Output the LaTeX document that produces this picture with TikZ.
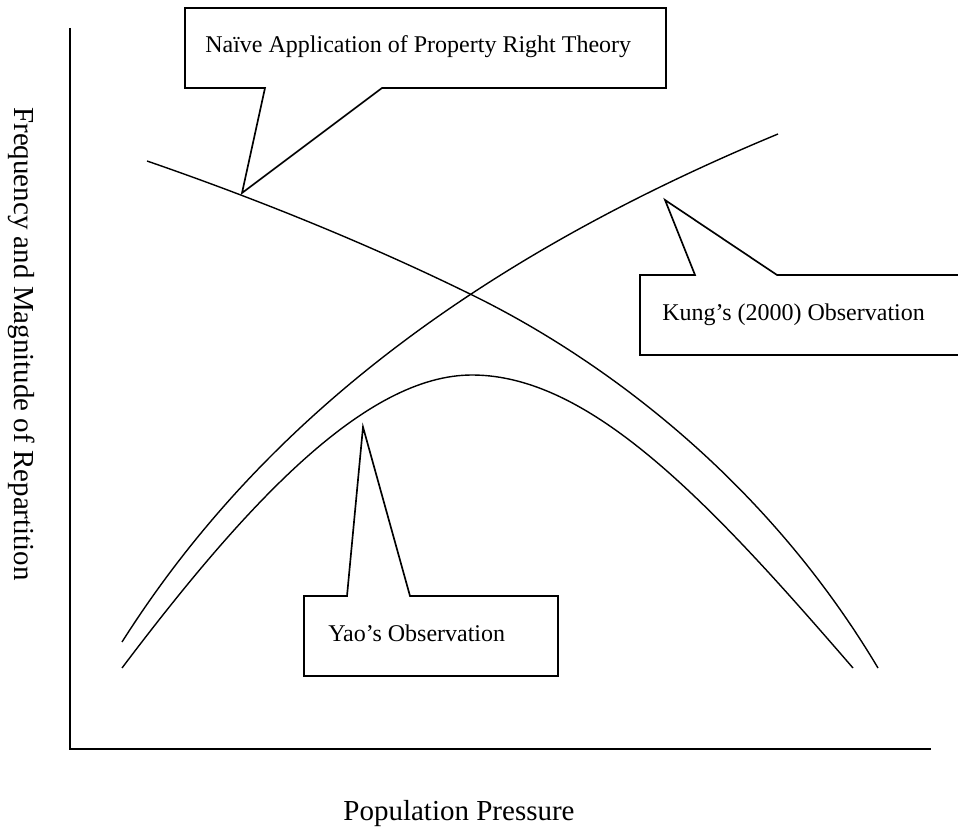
\documentclass[tikz,border=0pt]{standalone}
\usepackage{fontspec}
\setmainfont{Liberation Serif}

\begin{document}
\begin{tikzpicture}[x=0.75pt,y=0.75pt,yscale=-1,xscale=1,
  curve/.style={color={rgb, 255:red, 0; green, 0; blue, 0 }, draw opacity=1, line width=1.05pt},
  callout/.style={line width=1.25pt, line join=miter},
  calltext/.style={anchor=base west, inner sep=0.75pt, font=\fontsize{18}{22}\selectfont},
  axistext/.style={inner sep=0.75pt, font=\fontsize{21.75}{26}\selectfont}]
\useasboundingbox (0,0) rectangle (958,827);

%Straight Lines [id:axes]
\draw [line width=1.5pt]  (70,28) -- (70,749) -- (931,749) ;

%Curve Lines [id:naive]
\draw [curve]  (147,161) .. controls (260,200) and (370,245) .. (468,293) .. controls (590,352) and (760,470) .. (878,668) ;
%Curve Lines [id:kung]
\draw [curve]  (122,642) .. controls (252,437) and (455,268) .. (778,134) ;
%Curve Lines [id:yao]
\draw [curve]  (122,668) .. controls (245,505) and (365,375) .. (472,375) .. controls (592,375) and (713,506) .. (853,668) ;

%Shape: Callout [id:naivebox]
\draw [callout]  (185,8) -- (666,8) -- (666,88) -- (382,88) -- (242,193) -- (265,88) -- (185,88) -- cycle ;
%Shape: Callout [id:kungbox]
\draw [callout]  (640,275) -- (695,275) -- (665,200) -- (777,275) -- (964,275) -- (964,355) -- (640,355) -- cycle ;
%Shape: Callout [id:yaobox]
\draw [callout]  (304,596) -- (347,596) -- (363,427) -- (410,596) -- (558,596) -- (558,676) -- (304,676) -- cycle ;

% Text Node
\draw (204,53) node [calltext] (naive) {Naïve Application of Property Right Theory};
% Text Node
\draw (661,321) node [calltext] (kung) {Kung’s (2000) Observation};
% Text Node
\draw (327,641) node [calltext] (yao) {Yao’s Observation};
% Text Node
\draw (459,820) node [axistext, anchor=base] (xlabel) {Population Pressure};
% Text Node
\draw (22,344) node [axistext, rotate=-90] (ylabel) {Frequency and Magnitude of Repartition};

\end{tikzpicture}
\end{document}
